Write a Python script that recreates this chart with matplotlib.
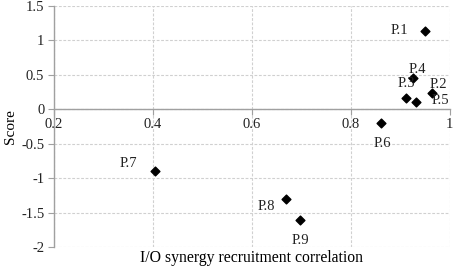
import matplotlib
matplotlib.use('Agg')
import matplotlib.pyplot as plt

# data
names = ['P.1', 'P.2', 'P.3', 'P.4', 'P.5', 'P.6', 'P.7', 'P.8', 'P.9']
corr = [0.951, 0.964, 0.912, 0.926, 0.932, 0.861, 0.404, 0.670, 0.697]
score = [1.14, 0.23, 0.17, 0.45, 0.10, -0.20, -0.90, -1.30, -1.61]

# label offsets in points (where each label sits relative to its marker)
offsets = [(-19, 0), (5, 6.5), (0, 10), (3, 6.5), (17.5, 1.4),
           (0.7, -14.4), (-19, 5.5), (-14.4, -5.5), (0.4, -14.4)]

plt.rcParams['font.family'] = ['Liberation Serif', 'DejaVu Serif']
plt.rcParams['font.size'] = 10.5

fig = plt.figure(figsize=(4.54, 2.67), dpi=100)
ax = fig.add_axes([0.119, 0.075, 0.8715, 0.9025])

ax.scatter(corr, score, marker='D', s=20, color='black', zorder=3)
for name, x, y, off in zip(names, corr, score, offsets):
    ax.annotate(name, (x, y), xytext=off, textcoords='offset points',
                ha='center', va='center', fontsize=10.5, color='#222222')

ax.set_xlim(0.2, 1.0)
ax.set_ylim(-2, 1.5)
ax.set_xticks([0.2, 0.4, 0.6, 0.8, 1.0])
ax.set_xticklabels(['0.2', '0.4', '0.6', '0.8', '1'])
ax.set_yticks([-2, -1.5, -1, -0.5, 0, 0.5, 1, 1.5])
ax.set_yticklabels(['-2', '-1.5', '-1', '-0.5', '0', '0.5', '1', '1.5'])

ax.grid(True, color='#d0d0d0', linestyle=(0, (2.5, 1.5)), linewidth=0.8)
ax.set_axisbelow(True)

ax.spines['top'].set_visible(False)
ax.spines['right'].set_visible(False)
ax.spines['bottom'].set_position(('data', 0))
for s in ['left', 'bottom']:
    ax.spines[s].set_color('#a0a0a0')
    ax.spines[s].set_linewidth(1.0)
    ax.spines[s].set_zorder(2)
ax.tick_params(axis='y', length=4, color='#a0a0a0', labelcolor='#222222', pad=3)
ax.tick_params(axis='x', direction='out', length=4, color='#a0a0a0',
               labelcolor='#222222', pad=2)

ax.set_xlabel('I/O synergy recruitment correlation', fontsize=11.3)
ax.xaxis.set_label_coords(0.5, -0.012)
ax.set_ylabel('Score', fontsize=11, labelpad=3)

fig.savefig('out.png', dpi=100)
